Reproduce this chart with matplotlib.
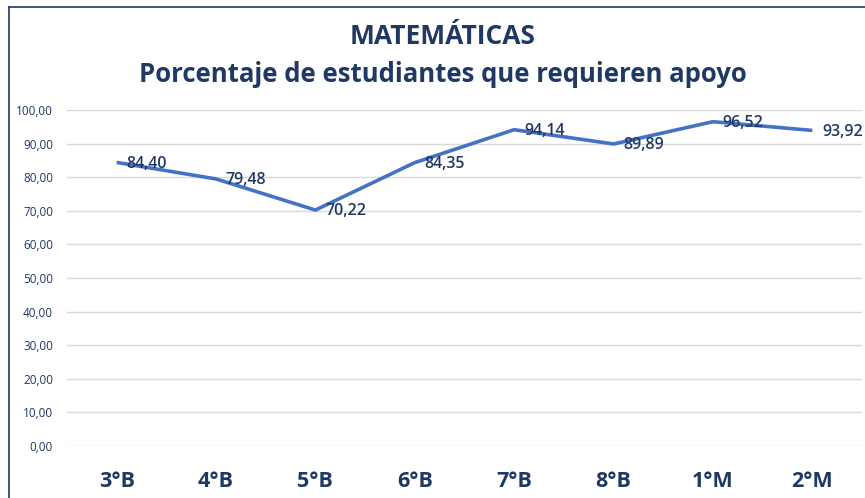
import matplotlib
matplotlib.use("Agg")
import matplotlib.pyplot as plt
from matplotlib.lines import Line2D

categories = ["3°B", "4°B", "5°B", "6°B", "7°B", "8°B", "1°M", "2°M"]
values = [84.40, 79.48, 70.22, 84.35, 94.14, 89.89, 96.52, 93.92]
yticks = [0, 10, 20, 30, 40, 50, 60, 70, 80, 90, 100]

navy = "#1F3864"
line_col = "#4472C4"
plt.rcParams['font.family'] = ['Open Sans', 'DejaVu Sans']

fig = plt.figure(figsize=(8.65, 4.98), dpi=100)
W, H = 865, 498
ax = fig.add_axes([67 / W, 1 - 446 / H, (862 - 67) / W, (446 - 110) / H])

x = list(range(len(categories)))
ax.plot(x, values, color=line_col, linewidth=2.6, solid_capstyle='butt', zorder=3)
for xi, v in zip(x, values):
    ax.annotate(f"{v:.2f}".replace(".", ","), (xi, v), xytext=(7, -1),
                textcoords="offset points", ha="left", va="center",
                fontsize=11.5, fontweight="semibold", color=navy, zorder=4)

ax.set_xlim(-0.5, len(categories) - 0.5)
ax.set_ylim(0, 100)
ax.set_yticks(yticks)
ax.set_yticklabels([f"{t:.2f}".replace(".", ",") for t in yticks], fontsize=8.5, color=navy)
ax.set_xticks(x)
ax.set_xticklabels(categories, fontsize=15.5, fontweight="bold", color=navy)
ax.tick_params(axis="both", length=0)
ax.tick_params(axis="y", pad=10)
ax.tick_params(axis="x", pad=18)
ax.grid(axis="y", color="#D9D9D9", linewidth=1)
ax.set_axisbelow(True)
for s in ax.spines.values():
    s.set_visible(False)

fig.text(443 / W, 1 - 37 / H, "MATEMÁTICAS", ha="center", va="center",
         fontsize=19, fontweight="bold", color=navy)
fig.text(443 / W, 1 - 75 / H, "Porcentaje de estudiantes que requieren apoyo",
         ha="center", va="center", fontsize=18.5, fontweight="bold", color=navy)

# chart border (top and left visible)
fig.add_artist(Line2D([9 / W, 9 / W], [0, 1 - 7 / H], transform=fig.transFigure,
                      color=navy, linewidth=1.2))
fig.add_artist(Line2D([9 / W, 1], [1 - 7 / H, 1 - 7 / H], transform=fig.transFigure,
                      color=navy, linewidth=1.2))

fig.savefig("out.png", dpi=100)
